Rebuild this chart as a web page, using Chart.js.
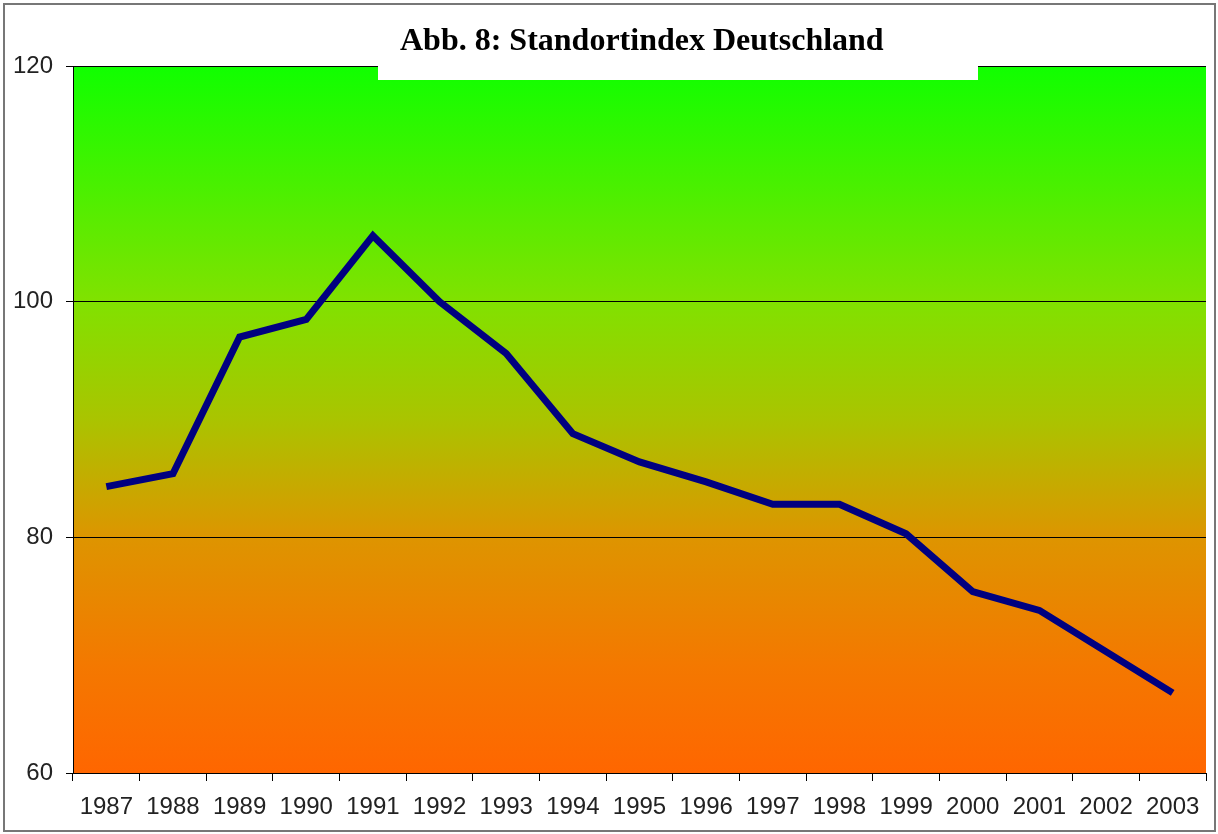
<!DOCTYPE html>
<html>
<head>
<meta charset="utf-8">
<script src="https://cdn.jsdelivr.net/npm/chart.js@4/dist/chart.umd.min.js"></script>
<style>
  html, body { margin: 0; padding: 0; background: #fff; }
  #wrap { width: 1218px; height: 834px; position: relative; }
</style>
</head>
<body>
<div id="wrap"><canvas id="standortChart" width="1218" height="834"></canvas></div>
<script>
const years = ['1987', '1988', '1989', '1990', '1991', '1992', '1993', '1994', '1995',
               '1996', '1997', '1998', '1999', '2000', '2001', '2002', '2003'];
const indexValues = [84.3, 85.4, 97.0, 98.5, 105.6, 100.0, 95.6, 88.8, 86.4,
                     84.7, 82.8, 82.8, 80.3, 75.4, 73.8, 70.3, 66.8];
const yTicks = [60, 80, 100, 120];
const chartTitle = 'Abb. 8: Standortindex Deutschland';

// gradient fill behind the plot + frame and title box on top
const decor = {
    id: 'decor',
    beforeDraw(chart) {
        const { ctx, chartArea: a } = chart;
        ctx.save();
        ctx.fillStyle = '#fff';
        ctx.fillRect(0, 0, chart.width, chart.height);
        const g = ctx.createLinearGradient(0, a.top, 0, a.bottom);
        g.addColorStop(0, '#10ff00');
        g.addColorStop(0.33, '#80e200');
        g.addColorStop(0.5, '#aac400');
        g.addColorStop(0.67, '#de9400');
        g.addColorStop(0.85, '#f47800');
        g.addColorStop(1, '#ff6600');
        ctx.fillStyle = g;
        ctx.fillRect(a.left, a.top, a.right - a.left, a.bottom - a.top);
        ctx.restore();
    },
    afterDraw(chart) {
        const ctx = chart.ctx;
        ctx.save();
        ctx.fillStyle = '#fff';
        ctx.fillRect(378, 6, 600, 74);
        ctx.fillStyle = '#000';
        ctx.font = 'bold 32px "Liberation Serif", "Times New Roman", serif';
        ctx.textBaseline = 'alphabetic';
        ctx.fillText(chartTitle, 400, 50);
        ctx.strokeStyle = '#777';
        ctx.lineWidth = 2;
        ctx.strokeRect(4, 4, 1211, 827);
        ctx.restore();
    }
};

const ctx = document.getElementById('standortChart').getContext('2d');
new Chart(ctx, {
    type: 'line',
    data: {
        labels: years,
        datasets: [{
            data: indexValues,
            borderColor: '#000080',
            borderWidth: 7,
            pointRadius: 0,
            tension: 0,
            fill: false
        }]
    },
    options: {
        responsive: false,
        animation: false,
        layout: { padding: { left: 0, top: 66, right: 12, bottom: 0 } },
        plugins: {
            legend: { display: false },
            tooltip: { enabled: false }
        },
        scales: {
            x: {
                offset: true,
                grid: {
                    offset: true,
                    drawOnChartArea: false,
                    color: '#000',
                    tickLength: 8
                },
                border: { color: '#000', width: 1 },
                ticks: {
                    color: '#222',
                    font: { family: '"Liberation Sans", Arial, sans-serif', size: 24 },
                    padding: 12,
                    maxRotation: 0,
                    autoSkip: false
                },
                afterFit(scale) { scale.height = 61; }
            },
            y: {
                min: 60,
                max: 120,
                afterBuildTicks(scale) { scale.ticks = yTicks.map(v => ({ value: v })); },
                grid: { color: '#000', tickLength: 7 },
                border: { color: '#000', width: 1 },
                ticks: {
                    color: '#222',
                    font: { family: '"Liberation Sans", Arial, sans-serif', size: 24 },
                    padding: 13
                },
                afterFit(scale) { scale.width = 73; }
            }
        }
    },
    plugins: [decor]
});
</script>
</body>
</html>
